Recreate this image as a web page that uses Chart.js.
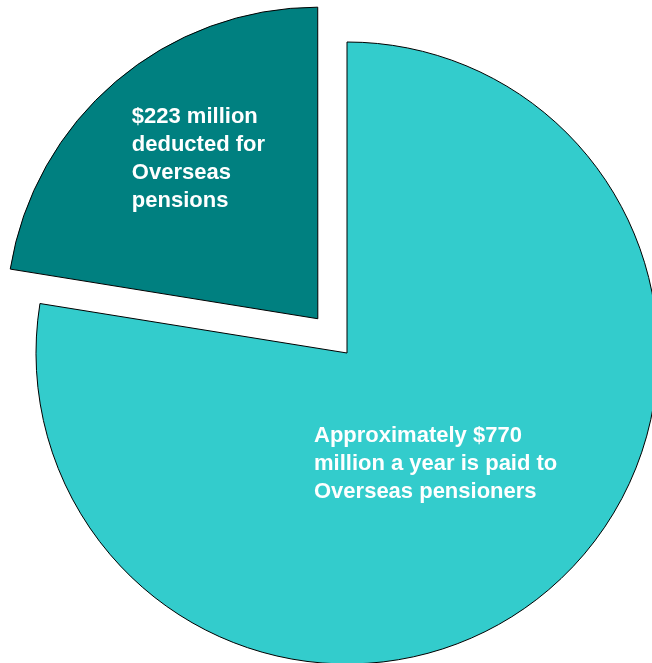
<!DOCTYPE html>
<html>
<head>
<meta charset="utf-8">
<style>
  html, body { margin: 0; padding: 0; background: #fff; overflow: hidden; }
  #wrap { width: 652px; height: 663px; overflow: hidden; position: relative; }
  #pie { position: absolute; left: 0; top: 0; }
</style>
<script src="https://cdn.jsdelivr.net/npm/chart.js@4/dist/chart.umd.min.js"></script>
</head>
<body>
<div id="wrap">
  <canvas id="pie" width="694" height="706"></canvas>
</div>
<script>
// values in $ million
const categories = ['Paid to Overseas pensioners', 'Deducted for Overseas pensions'];
const amounts = [770, 223];
const sliceColors = ['#33CCCC', '#008080'];
const sliceOffsets = [0, 180]; // chart.js moves the slice by offset / 4

const labelLines = [
    ['Approximately $770', 'million a year is paid to', 'Overseas pensioners'],
    ['$223 million', 'deducted for', 'Overseas', 'pensions']
];
// where the first line starts, relative to each slice's (moved) centre
const labelShift = [[-33, 89], [-186, -195.5]];

const sliceLabels = {
    id: 'sliceLabels',
    afterDatasetsDraw(chart) {
        const ctx = chart.ctx;
        const arcs = chart.getDatasetMeta(0).data;
        ctx.save();
        ctx.fillStyle = '#fff';
        ctx.font = 'bold 22px "Liberation Sans", Arial, sans-serif';
        ctx.textAlign = 'left';
        ctx.textBaseline = 'alphabetic';
        arcs.forEach((arc, i) => {
            const mid = (arc.startAngle + arc.endAngle) / 2;
            const move = (arc.options.offset || 0) / 4;
            const cx = arc.x + Math.cos(mid) * move;
            const cy = arc.y + Math.sin(mid) * move;
            labelLines[i].forEach((line, j) => {
                ctx.fillText(line, cx + labelShift[i][0], cy + labelShift[i][1] + j * 27.8);
            });
        });
        ctx.restore();
    }
};

new Chart(document.getElementById('pie'), {
    type: 'pie',
    data: {
        labels: categories,
        datasets: [{
            data: amounts,
            backgroundColor: sliceColors,
            borderColor: '#000',
            borderWidth: 1,
            offset: sliceOffsets
        }]
    },
    options: {
        responsive: false,
        animation: false,
        radius: 311,
        layout: { padding: 0 },
        plugins: {
            legend: { display: false },
            tooltip: { enabled: false }
        }
    },
    plugins: [sliceLabels]
});
</script>
</body>
</html>
